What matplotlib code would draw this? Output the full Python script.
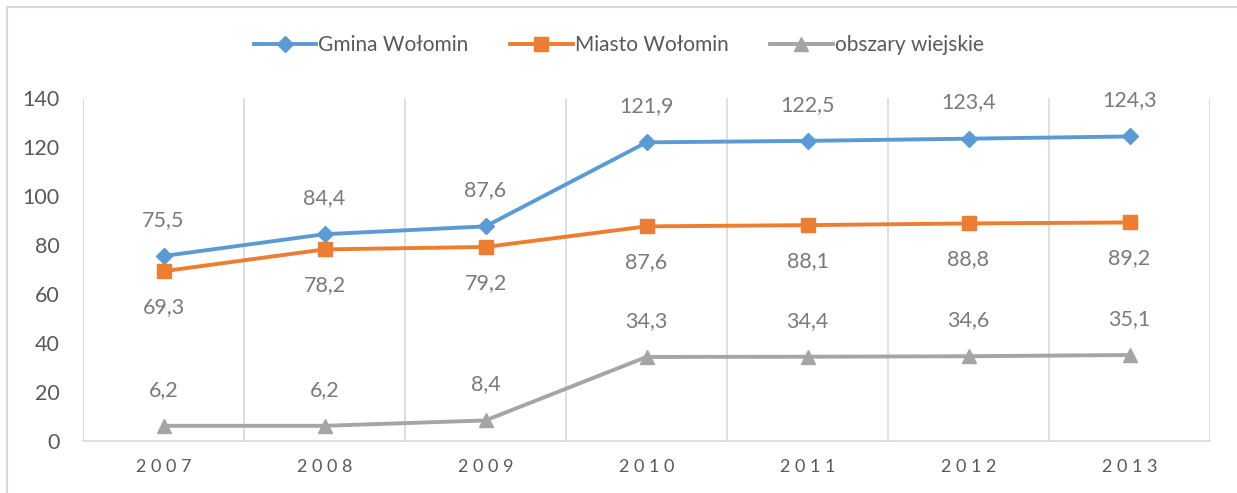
import matplotlib.pyplot as plt
from matplotlib.patches import Rectangle

years = ['2007', '2008', '2009', '2010', '2011', '2012', '2013']
gmina = [75.5, 84.4, 87.6, 121.9, 122.5, 123.4, 124.3]
miasto = [69.3, 78.2, 79.2, 87.6, 88.1, 88.8, 89.2]
wies = [6.2, 6.2, 8.4, 34.3, 34.4, 34.6, 35.1]

plt.rcParams['font.family'] = ['Lato', 'DejaVu Sans']
txt = '#595959'
lbl = '#7A7A7A'
grid = '#D9D9D9'

fig = plt.figure(figsize=(12.37, 4.93), dpi=100)
ax = fig.add_axes([83 / 1237, 1 - 441 / 493, (1210 - 83) / 1237, (441 - 98) / 493])

x = list(range(len(years)))
series = [
    (gmina, 'Gmina Wołomin', '#5B9BD5', 'D', 8, 'above'),
    (miasto, 'Miasto Wołomin', '#ED7D31', 's', 10, 'below'),
    (wies, 'obszary wiejskie', '#A5A5A5', '^', 10, 'above'),
]
for vals, name, col, mk, ms, pos in series:
    ax.plot(x, vals, color=col, lw=2.8, marker=mk, ms=ms, label=name, zorder=3)
    for xi, v in zip(x, vals):
        dy = 26 if pos == 'above' else -26
        ax.annotate(f'{v:.1f}'.replace('.', ','), (xi, v), xytext=(0, dy),
                    textcoords='offset points', ha='center', va='center',
                    fontsize=15.5, color=lbl)

ax.set_xlim(-0.5, len(years) - 0.5)
ax.set_ylim(0, 140)
ax.set_yticks(range(0, 141, 20))
ax.set_xticks(x)
ax.set_xticklabels([' '.join(y) for y in years], fontsize=13, color=txt)
for b in [i - 0.5 for i in range(len(years) + 1)]:
    ax.axvline(b, color=grid, lw=1.2, zorder=1)
for s in ['top', 'right', 'left']:
    ax.spines[s].set_visible(False)
ax.spines['bottom'].set_color(grid)
ax.spines['bottom'].set_linewidth(1.2)
ax.tick_params(axis='both', length=0, labelcolor=txt)
ax.tick_params(axis='y', labelsize=15.5, pad=17)
ax.tick_params(axis='x', pad=13)

fig.legend(loc='center', bbox_to_anchor=(0.5, 1 - 45 / 493), ncol=3, frameon=False,
           fontsize=15, labelcolor=txt, handlelength=3.0, columnspacing=2.0,
           handletextpad=0.1)

fig.add_artist(Rectangle((7 / 1237, -0.05), 1.1, 1 - 7 / 493 + 0.05,
                         transform=fig.transFigure, fill=False, ec=grid, lw=1.5))

fig.savefig('out.png', dpi=100)
